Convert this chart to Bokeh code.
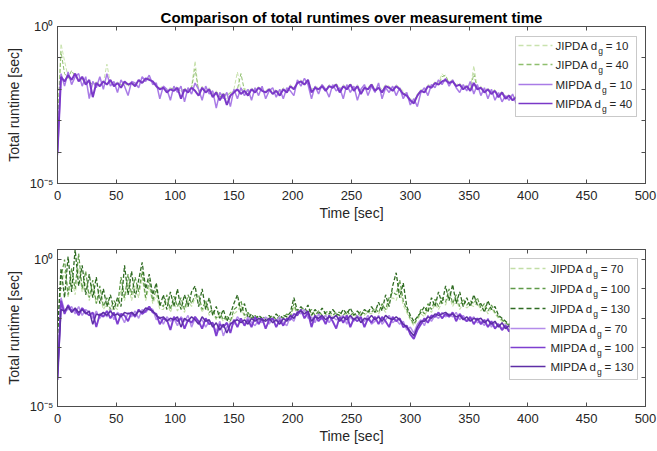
from bokeh.plotting import figure
from bokeh.layouts import column
from bokeh.models import LogAxis, LinearAxis, FixedTicker, Range1d, Label, BoxAnnotation, Arrow
from bokeh.embed import file_html
from bokeh.resources import INLINE

# ---------------- data (log10 of runtime in seconds, one sample every STEP s) -------------
STEP = 3
x_ticks = [0, 50, 100, 150, 200, 250, 300, 350, 400, 450, 500]
y_ticks = [1e-5, 1e-4, 1e-3, 1e-2, 1e-1, 1e0]
y_tick_labels = {1e-5: "10\u207b\u2075", 1e-4: "", 1e-3: "", 1e-2: "", 1e-1: "", 1e0: "10\u2070"}

top_jipda_10 = [-3.0, -0.55, -1.1, -1.6, -1.7, -1.55, -1.65, -1.7, -1.75, -1.8,
                -1.9, -1.75, -1.85, -1.8, -1.2, -1.8, -1.85, -1.75, -1.9, -1.8,
                -1.85, -1.75, -1.85, -1.7, -1.75, -1.65, -1.7, -1.75, -1.85, -1.95,
                -1.9, -2.0, -1.95, -2.0, -1.9, -2.1, -1.95, -2.05, -1.9, -1.1,
                -2.1, -1.9, -2.05, -1.95, -2.15, -2.05, -2.2, -2.1, -2.3, -2.15,
                -2.0, -1.45, -2.05, -1.95, -2.1, -1.95, -2.05, -1.9, -2.0, -2.05,
                -1.95, -2.1, -2.0, -2.1, -1.95, -2.05, -1.85, -1.95, -1.75, -1.7,
                -1.8, -1.7, -2.0, -1.9, -1.95, -1.85, -2.0, -1.85, -1.9, -1.8,
                -2.0, -1.85, -1.95, -1.8, -2.0, -1.85, -2.05, -1.9, -1.95, -1.8,
                -2.0, -1.9, -2.0, -1.85, -1.9, -2.0, -1.85, -1.95, -2.05, -2.15,
                -2.3, -2.35, -2.15, -2.0, -2.05, -1.85, -1.9, -1.75, -1.8, -1.5,
                -1.65, -1.75, -1.7, -1.85, -1.8, -1.95, -1.85, -2.0, -1.25, -1.95,
                -1.9, -2.05, -1.95, -2.1, -2.0, -2.2, -2.05, -2.25, -2.15, -2.3,
                -2.2]
top_jipda_40 = [-3.2, -0.8, -1.5, -1.65, -1.4, -1.6, -1.7, -1.65, -1.8, -1.75,
                -1.85, -1.8, -1.9, -1.75, -1.85, -1.7, -1.9, -1.8, -1.85, -1.8,
                -1.9, -1.8, -1.85, -1.75, -1.8, -1.7, -1.65, -1.8, -1.9, -2.0,
                -1.95, -2.05, -2.0, -1.95, -2.0, -2.05, -2.0, -2.1, -1.95, -1.35,
                -2.05, -2.0, -2.1, -2.0, -2.2, -2.1, -2.25, -2.15, -2.2, -2.1,
                -2.05, -2.0, -1.5, -2.05, -2.15, -2.0, -2.1, -1.95, -2.05, -2.1,
                -2.0, -2.15, -2.05, -2.15, -2.0, -2.1, -1.9, -2.0, -1.8, -1.75,
                -1.85, -1.75, -2.05, -1.95, -2.0, -1.9, -2.05, -1.9, -1.95, -1.85,
                -2.05, -1.9, -2.0, -1.85, -2.05, -1.9, -2.1, -1.95, -2.0, -1.85,
                -2.05, -1.95, -2.05, -1.9, -1.95, -2.05, -1.9, -2.0, -2.1, -2.2,
                -2.35, -2.4, -2.2, -2.05, -2.1, -1.9, -1.95, -1.8, -1.85, -1.6,
                -1.55, -1.8, -1.75, -1.9, -1.85, -2.0, -1.9, -2.05, -1.5, -2.0,
                -1.95, -2.1, -2.0, -2.15, -2.05, -2.25, -2.1, -2.3, -2.2, -2.35,
                -2.25]
top_mipda_10 = [-4.1, -1.5, -1.9, -1.45, -1.85, -1.6, -1.5, -1.9, -1.6, -2.3,
                -1.75, -1.95, -1.6, -2.0, -1.5, -1.9, -1.75, -2.1, -1.7, -1.9,
                -2.2, -1.75, -1.8, -1.95, -1.6, -1.75, -1.55, -1.85, -1.8, -2.3,
                -1.9, -2.0, -2.35, -1.9, -2.1, -1.9, -2.4, -1.95, -2.15, -1.8,
                -2.0, -2.35, -1.9, -2.15, -2.05, -2.6, -2.1, -2.3, -2.1, -2.55,
                -2.0, -2.3, -1.95, -2.2, -2.0, -2.35, -1.95, -2.2, -1.9, -2.3,
                -2.05, -1.95, -2.25, -2.0, -2.3, -1.95, -2.05, -2.2, -1.7, -1.9,
                -1.65, -1.85, -2.3, -1.9, -2.15, -1.85, -2.0, -2.25, -1.85, -2.05,
                -1.95, -2.3, -1.85, -2.1, -1.9, -2.35, -2.0, -1.85, -2.2, -1.9,
                -2.1, -1.8, -2.3, -1.95, -2.1, -1.9, -2.2, -1.95, -2.3, -2.1,
                -2.5, -2.3, -2.55, -2.1, -1.95, -2.2, -1.85, -1.95, -1.7, -1.85,
                -1.65, -1.9, -1.7, -1.95, -2.1, -1.85, -2.05, -1.75, -2.15, -1.85,
                -2.2, -1.95, -2.3, -2.0, -2.35, -2.1, -2.4, -2.2, -2.35, -2.15,
                -2.45]
top_mipda_40 = [-4.0, -1.6, -1.75, -1.55, -1.7, -1.5, -1.75, -1.6, -1.85, -1.7,
                -2.25, -1.8, -1.9, -1.75, -1.85, -1.7, -1.9, -1.8, -1.95, -1.75,
                -1.85, -1.8, -1.9, -1.7, -1.8, -1.65, -1.7, -1.75, -1.9, -2.0,
                -1.95, -2.1, -2.0, -2.05, -1.95, -2.3, -2.0, -2.1, -1.95, -2.05,
                -2.2, -1.95, -2.1, -2.0, -2.25, -2.1, -2.35, -2.15, -2.5, -2.2,
                -2.1, -2.0, -2.15, -2.05, -2.2, -2.0, -2.1, -1.95, -2.05, -2.1,
                -2.0, -2.15, -2.05, -2.2, -2.0, -2.1, -1.9, -2.0, -1.8, -1.75,
                -1.85, -1.7, -2.1, -1.95, -2.0, -1.9, -2.05, -1.9, -1.95, -1.85,
                -2.1, -1.9, -2.0, -1.85, -2.05, -1.9, -2.15, -1.95, -2.0, -1.85,
                -2.05, -1.95, -2.1, -1.9, -1.95, -2.05, -1.9, -2.0, -2.15, -2.2,
                -2.35, -2.45, -2.2, -2.05, -2.1, -1.9, -1.95, -1.8, -1.85, -1.75,
                -1.7, -1.8, -1.75, -1.9, -1.85, -2.0, -1.9, -2.05, -1.8, -2.0,
                -1.95, -2.1, -2.0, -2.15, -2.05, -2.25, -2.1, -2.3, -2.2, -2.35,
                -2.25]

bot_jipda_70 = [-2.9, -0.9, -0.4, -1.3, -0.6, -1.2, -0.3, -1.1, -0.8, -1.4,
                -1.0, -1.5, -1.2, -1.7, -1.5, -1.8, -1.6, -1.7, -1.0, -1.4,
                -0.8, -1.4, -0.9, -1.3, -0.6, -1.4, -0.9, -1.5, -1.2, -1.7,
                -1.7, -1.4, -1.8, -1.45, -1.75, -1.5, -1.8, -1.4, -1.6, -1.3,
                -1.4, -1.8, -1.5, -1.9, -1.8, -2.05, -1.9, -2.1, -2.0, -2.15,
                -1.85, -1.75, -1.55, -2.0, -1.9, -2.05, -2.0, -2.1, -2.0, -2.05,
                -2.05, -1.95, -2.1, -2.0, -2.05, -1.95, -2.0, -1.6, -1.9, -1.8,
                -1.75, -1.85, -1.8, -1.95, -1.85, -1.95, -1.9, -1.85, -1.95, -1.9,
                -1.9, -1.95, -1.85, -1.95, -1.9, -2.0, -1.85, -1.9, -1.8, -1.85,
                -1.75, -1.85, -1.6, -1.8, -1.45, -1.3, -1.4, -1.0, -1.55, -1.8,
                -2.05, -2.25, -2.05, -1.85, -1.95, -1.65, -1.8, -1.5, -1.7, -1.45,
                -1.55, -1.2, -1.6, -1.35, -1.7, -1.5, -1.65, -1.55, -1.6, -1.45,
                -1.75, -1.6, -1.85, -1.65, -1.85, -2.0, -2.1, -2.2, -2.3, -2.35,
                -2.3]
bot_jipda_100 = [-2.7, -0.6, 0.0, -1.2, -0.3, -1.0, 0.2, -1.0, -0.4, -1.3,
                 -0.7, -1.5, -0.9, -1.6, -1.3, -1.7, -1.4, -1.6, -0.6, -1.3,
                 -0.5, -1.2, -0.6, -1.1, -0.4, -1.3, -0.7, -1.4, -1.0, -1.5,
                 -1.6, -1.2, -1.7, -1.25, -1.6, -1.3, -1.7, -1.2, -1.5, -1.2,
                 -1.2, -1.7, -1.4, -1.8, -1.7, -2.0, -1.8, -2.05, -1.9, -2.1,
                 -1.7, -1.6, -1.4, -1.9, -1.8, -2.0, -1.9, -2.05, -1.95, -2.0,
                 -2.0, -1.9, -2.05, -1.9, -2.0, -1.85, -1.95, -1.5, -1.85, -1.7,
                 -1.65, -1.8, -1.7, -1.9, -1.75, -1.9, -1.8, -1.75, -1.9, -1.8,
                 -1.8, -1.9, -1.75, -1.9, -1.8, -1.95, -1.75, -1.85, -1.75, -1.8,
                 -1.65, -1.8, -1.5, -1.7, -1.3, -1.1, -1.2, -0.7, -1.4, -1.7,
                 -2.0, -2.2, -2.0, -1.7, -1.85, -1.5, -1.7, -1.35, -1.6, -1.3,
                 -1.45, -1.0, -1.5, -1.2, -1.6, -1.35, -1.55, -1.4, -1.5, -1.3,
                 -1.65, -1.5, -1.75, -1.55, -1.8, -1.95, -2.05, -2.15, -2.25, -2.3,
                 -2.25]
bot_jipda_130 = [-2.5, -0.3, -1.3, 0.1, -1.1, 0.34, -0.9, -0.2, -1.2, -0.5,
                 -1.3, -0.6, -1.5, -1.0, -1.6, -1.2, -1.7, -1.3, -1.6, -0.2,
                 -1.2, -0.4, -1.3, -0.7, -0.1, -1.0, -0.5, -1.2, -0.8, -1.6,
                 -1.2, -1.7, -1.1, -1.6, -1.0, -1.7, -1.2, -1.6, -1.1, -0.9,
                 -1.6, -1.0, -1.7, -1.3, -1.9, -1.6, -2.0, -1.7, -2.1, -1.85,
                 -1.5, -1.2, -1.8, -1.5, -2.0, -1.85, -2.05, -1.9, -2.0, -2.05,
                 -1.9, -2.05, -1.85, -2.0, -1.9, -1.95, -1.8, -1.3, -1.75, -1.6,
                 -1.75, -1.55, -1.9, -1.7, -1.85, -1.65, -1.85, -1.85, -1.7, -1.85,
                 -1.9, -1.7, -1.85, -1.65, -1.9, -1.75, -1.9, -1.7, -1.8, -1.6,
                 -1.8, -1.45, -1.75, -1.2, -1.6, -0.9, -0.45, -1.3, -0.8, -1.6,
                 -1.9, -2.1, -1.95, -1.8, -1.6, -1.8, -1.3, -1.6, -1.1, -1.5,
                 -0.9, -1.4, -0.85, -1.5, -1.1, -1.6, -1.3, -1.6, -1.2, -1.55,
                 -1.5, -1.8, -1.4, -1.7, -1.6, -1.9, -2.0, -2.1, -2.2, -2.25,
                 -2.2]
bot_mipda_70 = [-4.0, -1.3, -1.75, -1.7, -1.6, -1.85, -1.6, -1.9, -1.7, -1.8,
                -2.0, -1.75, -2.0, -1.8, -1.95, -1.7, -2.05, -1.8, -1.9, -2.15,
                -1.8, -1.95, -1.75, -2.0, -1.7, -1.8, -1.65, -1.7, -2.05, -1.95,
                -2.2, -1.95, -2.1, -2.0, -2.25, -1.95, -2.1, -1.9, -2.3, -2.0,
                -2.15, -2.05, -2.3, -2.1, -2.2, -2.45, -2.1, -2.6, -2.3, -2.15,
                -2.2, -1.95, -2.1, -2.2, -1.95, -2.15, -2.25, -2.05, -2.15, -1.95,
                -2.2, -2.0, -2.1, -1.95, -2.15, -2.25, -1.95, -2.1, -1.75, -1.85,
                -1.7, -2.0, -1.95, -2.15, -1.85, -2.05, -1.9, -2.15, -1.95, -2.05,
                -2.0, -1.9, -2.2, -1.95, -2.1, -1.9, -2.05, -2.1, -1.9, -2.2,
                -2.1, -1.9, -2.2, -2.05, -1.9, -2.15, -2.05, -2.2, -2.1, -2.4,
                -2.3, -2.5, -2.2, -2.05, -2.25, -1.9, -2.1, -1.9, -2.0, -1.8,
                -1.95, -1.85, -1.95, -1.8, -2.05, -1.9, -2.1, -2.05, -1.95, -2.15,
                -2.1, -2.25, -2.0, -2.3, -2.15, -2.2, -2.35, -2.2, -2.4, -2.35,
                -2.45]
bot_mipda_100 = [-4.1, -1.4, -1.85, -1.55, -1.75, -1.7, -1.9, -1.65, -1.8, -1.9,
                 -1.8, -2.3, -1.85, -1.95, -1.75, -2.0, -1.8, -2.2, -1.85, -1.9,
                 -2.1, -1.8, -1.95, -1.7, -1.85, -1.75, -1.6, -1.8, -1.85, -2.2,
                 -2.0, -2.05, -2.4, -1.95, -2.1, -2.0, -2.35, -2.05, -2.15, -1.95,
                 -2.1, -2.35, -2.0, -2.2, -2.15, -2.6, -2.2, -2.3, -2.15, -2.5,
                 -2.05, -2.3, -2.0, -2.25, -2.05, -2.3, -1.95, -2.2, -2.0, -2.35,
                 -2.05, -2.0, -2.3, -2.05, -2.25, -2.0, -2.05, -1.85, -1.9, -1.7,
                 -2.0, -1.8, -2.3, -1.9, -2.1, -1.95, -2.2, -1.9, -2.1, -2.35,
                 -1.95, -2.15, -1.9, -2.3, -2.0, -2.1, -1.95, -2.3, -2.0, -2.15,
                 -1.95, -2.2, -1.95, -2.1, -2.3, -1.95, -2.1, -2.0, -2.3, -2.25,
                 -2.55, -2.7, -2.4, -2.2, -2.0, -2.15, -1.9, -1.95, -1.8, -2.0,
                 -1.85, -1.95, -1.8, -2.1, -1.85, -2.0, -2.1, -1.95, -2.2, -2.0,
                 -2.2, -2.05, -2.3, -2.1, -2.35, -2.2, -2.4, -2.25, -2.45, -2.3,
                 -2.4]
bot_mipda_130 = [-4.0, -1.7, -1.75, -1.6, -1.8, -1.65, -1.8, -1.7, -1.85, -1.75,
                 -2.2, -1.85, -1.9, -1.8, -1.9, -1.75, -1.9, -1.85, -1.95, -1.8,
                 -1.85, -1.8, -1.9, -1.75, -1.8, -1.65, -1.7, -1.75, -1.9, -2.0,
                 -1.95, -2.1, -2.0, -2.05, -1.95, -2.3, -2.0, -2.1, -1.95, -2.05,
                 -2.2, -1.95, -2.1, -2.05, -2.3, -2.15, -2.4, -2.2, -2.5, -2.2,
                 -2.1, -2.05, -2.15, -2.05, -2.2, -2.0, -2.1, -2.0, -2.05, -2.1,
                 -2.0, -2.15, -2.05, -2.2, -2.0, -2.1, -1.9, -2.0, -1.8, -1.75,
                 -1.85, -1.75, -2.1, -1.95, -2.0, -1.9, -2.05, -1.95, -2.0, -1.9,
                 -2.1, -1.95, -2.05, -1.9, -2.05, -1.95, -2.15, -2.0, -2.05, -1.9,
                 -2.05, -1.95, -2.1, -1.9, -2.0, -2.05, -1.95, -2.05, -2.2, -2.3,
                 -2.45, -2.6, -2.3, -2.1, -2.1, -1.95, -2.0, -1.85, -1.9, -1.85,
                 -1.8, -1.9, -1.85, -1.95, -1.9, -2.05, -1.95, -2.1, -2.0, -2.05,
                 -2.0, -2.15, -2.05, -2.2, -2.1, -2.3, -2.15, -2.35, -2.25, -2.4,
                 -2.3]

top_series = [("JIPDA", "10", top_jipda_10), ("JIPDA", "40", top_jipda_40),
              ("MIPDA", "10", top_mipda_10), ("MIPDA", "40", top_mipda_40)]
bot_series = [("JIPDA", "70", bot_jipda_70), ("JIPDA", "100", bot_jipda_100),
              ("JIPDA", "130", bot_jipda_130), ("MIPDA", "70", bot_mipda_70),
              ("MIPDA", "100", bot_mipda_100), ("MIPDA", "130", bot_mipda_130)]

# ---------------- styles ----------------
top_colors = ["#c9e2ae", "#8fbf6e", "#a97be6", "#7a38c8"]
top_widths = [1.0, 1.0, 1.5, 2.0]
bot_colors = ["#c2dea6", "#5f9a48", "#2f6b22", "#b48cea", "#7e3fd0", "#5e2ea6"]
bot_widths = [1.1, 1.2, 1.3, 1.5, 1.9, 1.5]
FONT = "Liberation Sans"
AX = "#4d4d4d"
TXT = "#262626"
DASH_PLOT = "4 2"
DASH_LEGEND = "5 3"


def times(vals):
    return [i * STEP for i in range(len(vals))]


def runtime(vals):
    return [10 ** v for v in vals]


def style_axis(ax, show_labels=True):
    ax.major_tick_in = 4
    ax.major_tick_out = 0
    ax.minor_tick_line_color = None
    ax.axis_line_color = AX
    ax.major_tick_line_color = AX
    ax.major_label_text_font = FONT
    ax.major_label_text_color = TXT
    ax.axis_label_text_font = FONT
    ax.axis_label_text_font_style = "normal"
    ax.axis_label_text_font_size = "14px"
    ax.axis_label_text_color = TXT
    if show_labels:
        ax.major_label_text_font_size = "13px"
    else:
        ax.major_label_text_font_size = "1px"
        ax.major_label_text_alpha = 0.0
        ax.major_label_standoff = 0


def make_fig(series, colors, widths, ymax, border_top, border_bottom, title=None):
    p = figure(frame_width=588, frame_height=157, x_range=Range1d(0, 500),
               y_range=Range1d(1e-5, ymax), y_axis_type="log",
               output_backend="svg", toolbar_location=None,
               min_border_left=57, min_border_right=12,
               min_border_top=border_top, min_border_bottom=border_bottom,
               title=title)
    p.grid.visible = False
    p.outline_line_color = AX
    p.background_fill_color = "white"
    p.border_fill_color = "white"
    if title:
        p.title.text_font = FONT
        p.title.text_font_size = "15px"
        p.title.text_font_style = "bold"
        p.title.align = "center"
        p.title.text_color = "#000000"
        p.title.standoff = 2
    for (name, dg, vals), c, w in zip(series, colors, widths):
        p.line(times(vals), runtime(vals), line_color=c, line_width=w,
               line_dash=DASH_PLOT if name == "JIPDA" else "solid")
    p.xaxis.ticker = FixedTicker(ticks=x_ticks)
    p.yaxis.ticker = FixedTicker(ticks=y_ticks)
    p.yaxis.major_label_overrides = y_tick_labels
    p.xaxis.axis_label = "Time [sec]"
    p.yaxis.axis_label = "Total runtime [sec]"
    for ax in p.xaxis:
        style_axis(ax)
        ax.major_label_standoff = 7
        ax.axis_label_standoff = 2
    for ax in p.yaxis:
        style_axis(ax)
        ax.major_label_standoff = 4
        ax.axis_label_standoff = 5
    ra = LogAxis(ticker=FixedTicker(ticks=y_ticks))
    style_axis(ra, False)
    p.add_layout(ra, "right")
    ta = LinearAxis(ticker=FixedTicker(ticks=x_ticks))
    style_axis(ta, False)
    p.add_layout(ta, "above")
    return p


def add_legend(p, series, colors, box, rows_y, line_x0, line_x1, text_x):
    left, right, bottom, top = box
    p.add_layout(BoxAnnotation(left=left, right=right, bottom=bottom, top=top,
                               left_units="screen", right_units="screen",
                               bottom_units="screen", top_units="screen",
                               fill_color="white", fill_alpha=1.0,
                               line_color=AX, line_width=1, level="annotation"))
    for (name, dg, vals), c, y in zip(series, colors, rows_y):
        p.add_layout(Arrow(end=None, x_start=line_x0, y_start=y, x_end=line_x1, y_end=y,
                           start_units="screen", end_units="screen",
                           line_color=c, line_width=1.3,
                           line_dash=DASH_LEGEND if name == "JIPDA" else "solid"))
        w = 42.2 if name == "JIPDA" else 46.0
        p.add_layout(Label(x=text_x, y=y, x_units="screen", y_units="screen",
                           text=name + " d", text_font=FONT, text_font_size="11.5px",
                           text_color=TXT, text_baseline="middle", text_align="left"))
        p.add_layout(Label(x=text_x + w + 0.5, y=y - 5, x_units="screen", y_units="screen",
                           text="g", text_font=FONT, text_font_size="8.5px",
                           text_color=TXT, text_baseline="middle", text_align="left"))
        p.add_layout(Label(x=text_x + w + 8, y=y, x_units="screen", y_units="screen",
                           text="= " + dg, text_font=FONT, text_font_size="11.5px",
                           text_color=TXT, text_baseline="middle", text_align="left"))


p1 = make_fig(top_series, top_colors, top_widths, 1e0, 26, 47,
              title="Comparison of total runtimes over measurement time")
add_legend(p1, top_series, top_colors, (458, 579, 67, 147),
           [138, 119, 99, 80], 461, 495, 498)

p2 = make_fig(bot_series, bot_colors, bot_widths, 2.19, 19, 45)
add_legend(p2, bot_series, bot_colors, (452, 580, 27, 148),
           [138, 118, 98, 78, 59, 40], 453, 488, 493)

layout = column(p1, p2, spacing=0)
open("out.html", "w").write(file_html(layout, INLINE))
